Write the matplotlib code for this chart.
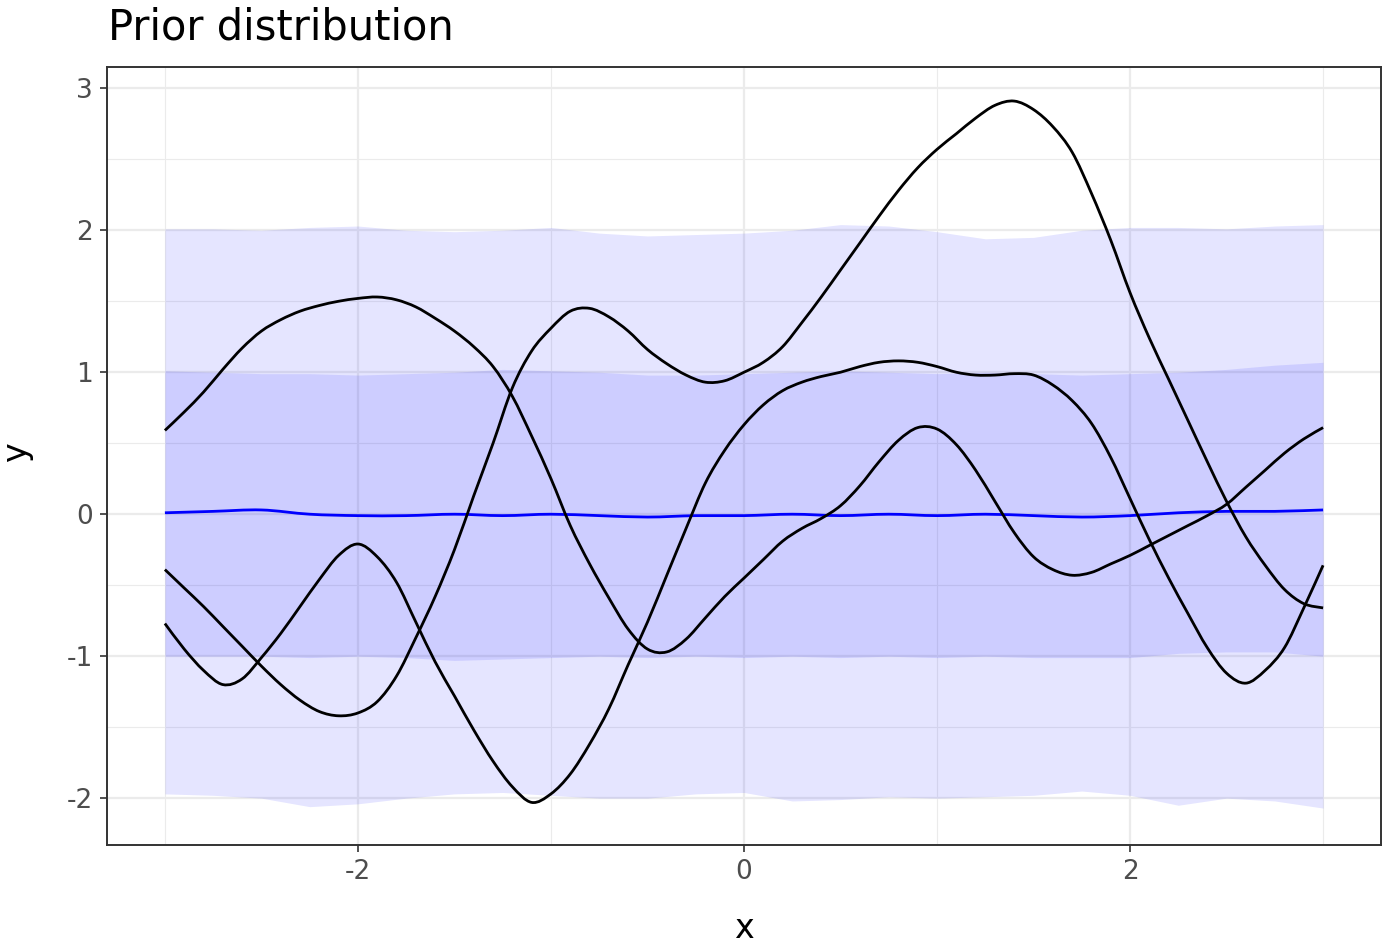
import numpy as np
import matplotlib
matplotlib.use("Agg")
import matplotlib.pyplot as plt
from matplotlib.ticker import MultipleLocator
from matplotlib.path import Path
from matplotlib.patches import PathPatch

# ---------------- data ----------------
x_curve = np.round(np.arange(-3.0, 3.0001, 0.1), 2)

sample_a = [0.59, 0.72, 0.86, 1.02, 1.17, 1.29, 1.37, 1.43, 1.47, 1.50,
            1.52, 1.53, 1.51, 1.46, 1.38, 1.29, 1.18, 1.04, 0.83, 0.55,
            0.25, -0.08, -0.35, -0.59, -0.81, -0.95, -0.97, -0.88, -0.73, -0.58,
            -0.45, -0.32, -0.19, -0.10, -0.03, 0.06, 0.20, 0.37, 0.52, 0.61,
            0.60, 0.49, 0.31, 0.09, -0.13, -0.30, -0.39, -0.43, -0.41, -0.35,
            -0.29, -0.22, -0.15, -0.08, -0.01, 0.07, 0.19, 0.31, 0.43, 0.53,
            0.61]

sample_b = [-0.77, -0.95, -1.10, -1.20, -1.16, -1.01, -0.84, -0.65, -0.46, -0.29,
            -0.21, -0.30, -0.48, -0.76, -1.04, -1.28, -1.52, -1.74, -1.92, -2.03,
            -1.97, -1.83, -1.62, -1.37, -1.06, -0.76, -0.43, -0.10, 0.22, 0.45,
            0.63, 0.77, 0.87, 0.93, 0.97, 1.00, 1.04, 1.07, 1.08, 1.07,
            1.04, 1.00, 0.98, 0.98, 0.99, 0.98, 0.91, 0.80, 0.64, 0.40,
            0.11, -0.18, -0.45, -0.70, -0.94, -1.12, -1.19, -1.10, -0.94, -0.66,
            -0.36]

sample_c = [-0.39, -0.52, -0.65, -0.79, -0.93, -1.07, -1.20, -1.31, -1.39, -1.42,
            -1.40, -1.32, -1.14, -0.87, -0.58, -0.25, 0.13, 0.50, 0.89, 1.15,
            1.31, 1.43, 1.45, 1.39, 1.29, 1.16, 1.06, 0.98, 0.93, 0.94,
            1.00, 1.07, 1.18, 1.35, 1.53, 1.72, 1.91, 2.10, 2.28, 2.44,
            2.57, 2.68, 2.79, 2.88, 2.91, 2.85, 2.73, 2.55, 2.26, 1.93,
            1.56, 1.24, 0.95, 0.66, 0.37, 0.09, -0.16, -0.36, -0.53, -0.63,
            -0.66]

samples = [sample_a, sample_b, sample_c]

x_band = np.round(np.arange(-3.0, 3.0001, 0.25), 2)
mean_line = [0.01, 0.02, 0.03, 0.00, -0.01, -0.01, 0.00, -0.01, 0.00, -0.01,
             -0.02, -0.01, -0.01, 0.00, -0.01, 0.00, -0.01, 0.00, -0.01, -0.02,
             -0.01, 0.01, 0.02, 0.02, 0.03]
upper_2sd = [2.01, 2.01, 2.00, 2.02, 2.03, 2.00, 1.99, 2.00, 2.02, 1.98,
             1.96, 1.97, 1.98, 2.00, 2.04, 2.03, 1.99, 1.94, 1.95, 2.00,
             2.02, 2.02, 2.01, 2.03, 2.04]
upper_1sd = [1.01, 1.00, 0.99, 0.99, 0.98, 0.99, 1.00, 1.02, 1.01, 1.00,
             0.98, 0.98, 0.99, 1.00, 1.01, 1.00, 0.99, 1.00, 0.99, 0.98,
             0.99, 1.00, 1.02, 1.05, 1.07]
lower_1sd = [-1.00, -1.00, -1.00, -1.01, -1.00, -1.01, -1.03, -1.02, -1.01, -1.00,
             -1.01, -1.00, -1.01, -1.00, -1.01, -1.00, -1.01, -1.00, -1.01, -1.01,
             -1.01, -0.98, -0.97, -0.97, -1.00]
lower_2sd = [-1.97, -1.98, -2.00, -2.06, -2.04, -2.00, -1.97, -1.96, -1.98, -2.00,
             -2.00, -1.97, -1.96, -2.02, -2.01, -1.99, -2.00, -1.99, -1.98, -1.95,
             -1.98, -2.05, -2.00, -2.02, -2.07]

x_ticks = [-2, 0, 2]
y_ticks = [-2, -1, 0, 1, 2, 3]
title_text = "Prior distribution"
x_label = "x"
y_label = "y"


def smooth_path(xs, ys):
    """Catmull-Rom curve through the given points, as a cubic Bezier path."""
    p = np.column_stack([np.asarray(xs, float), np.asarray(ys, float)])
    ext = np.vstack([p[0], p, p[-1]])
    verts = [p[0]]
    codes = [Path.MOVETO]
    for i in range(1, len(ext) - 2):
        p0, p1, p2, p3 = ext[i - 1], ext[i], ext[i + 1], ext[i + 2]
        verts += [p1 + (p2 - p0) / 6.0, p2 - (p3 - p1) / 6.0, p2]
        codes += [Path.CURVE4] * 3
    return Path(verts, codes)


# ---------------- figure ----------------
plt.rcParams['font.family'] = ['DejaVu Sans']
plt.rcParams['axes.unicode_minus'] = False
W, H = 1383, 943
fig = plt.figure(figsize=(W / 100, H / 100), dpi=100)
ax = fig.add_axes([107 / W, (H - 845) / H, (1381 - 107) / W, (845 - 67) / H])

ax.set_xlim(-3.3, 3.3)
ax.set_ylim(-2.33, 3.15)

# grid
ax.set_xticks(x_ticks)
ax.set_yticks(y_ticks)
ax.xaxis.set_minor_locator(MultipleLocator(1))
ax.yaxis.set_minor_locator(MultipleLocator(0.5))
ax.grid(which='major', color='#EBEBEB', linewidth=1.6, zorder=0)
ax.grid(which='minor', color='#EBEBEB', linewidth=0.8, zorder=0)
ax.set_axisbelow(True)
ax.tick_params(which='minor', length=0)
ax.tick_params(which='major', length=5, width=1.2, color='#333333',
               labelsize=19, labelcolor='#4D4D4D', pad=5)

# bands
ax.fill_between(x_band, lower_2sd, upper_2sd, color='blue', alpha=0.1,
                linewidth=0, zorder=1)
ax.fill_between(x_band, lower_1sd, upper_1sd, color='blue', alpha=0.1,
                linewidth=0, zorder=1)

# mean
ax.add_patch(PathPatch(smooth_path(x_band, mean_line), facecolor='none',
                       edgecolor='blue', linewidth=2.0, zorder=2))

# samples
for s in samples:
    ax.add_patch(PathPatch(smooth_path(x_curve, s), facecolor='none',
                           edgecolor='black', linewidth=2.0, zorder=3,
                           capstyle='butt'))

for sp in ax.spines.values():
    sp.set_color('#333333')
    sp.set_linewidth(1.4)

fig.text(108 / W, 1 - 40 / H, title_text, fontsize=30, color='black',
         ha='left', va='baseline')
fig.text(744 / W, 1 - 928 / H, x_label, fontsize=24, color='black',
         ha='center', va='center')
fig.text(17 / W, 1 - 452 / H, y_label, fontsize=24, color='black',
         ha='center', va='center', rotation=90)

fig.savefig("out.png", dpi=100)
